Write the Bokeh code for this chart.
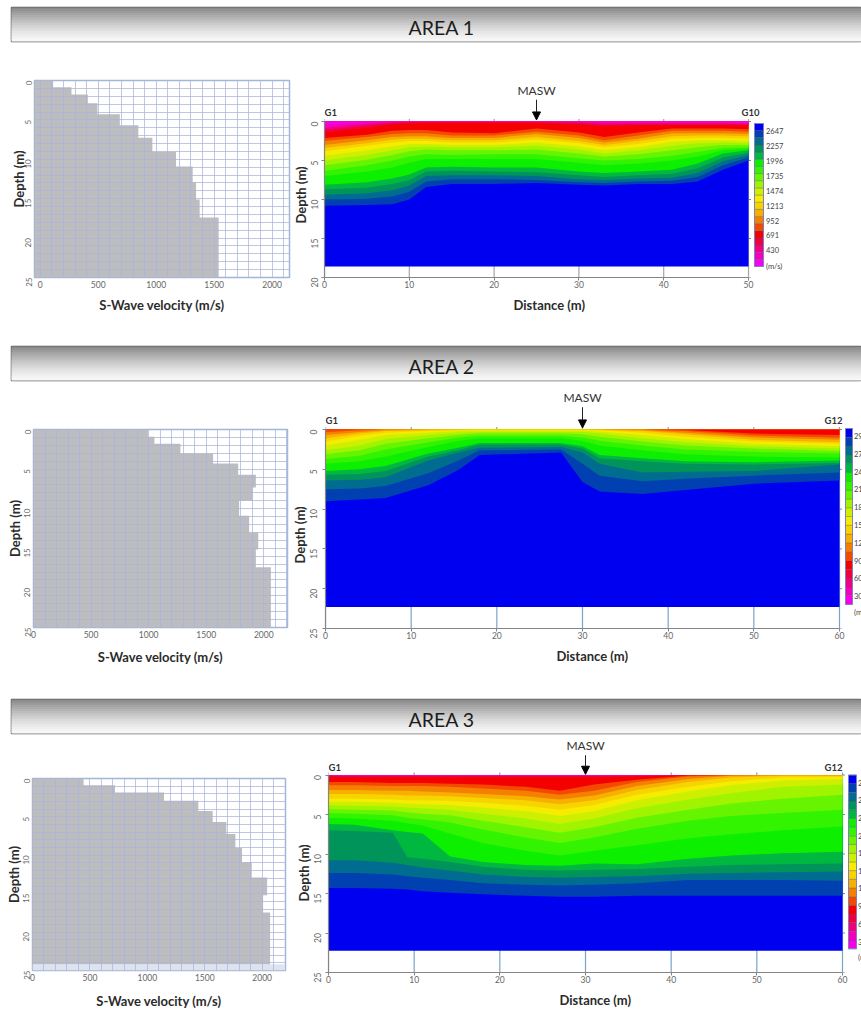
import math
from bokeh.plotting import figure
from bokeh.layouts import column, row
from bokeh.embed import file_html
from bokeh.resources import INLINE
from bokeh.core.properties import value
from bokeh.models import Range1d, FixedTicker, SingleIntervalTicker, Label, Arrow, NormalHead, ColumnDataSource, Title

FONT = "Lato"

# ---------- S-wave velocity profiles ----------
V1_DEPTH = [0, 0.85, 1.78, 2.88, 4.28, 5.68, 7.25, 9.03, 10.9, 12.9, 15.1, 17.4, 25]
V1_VEL = [111, 269, 410, 493, 686, 846, 967, 1171, 1315, 1344, 1375, 1539]
V2_DEPTH = [0, 0.93, 1.81, 3.03, 4.29, 5.72, 7.32, 9.0, 10.9, 13.0, 15.15, 17.4, 25]
V2_VEL = [994, 1050, 1276, 1560, 1778, 1931, 1902, 1786, 1873, 1952, 1931, 2062]
V3_DEPTH = [0, 0.89, 1.82, 2.91, 4.22, 5.66, 7.22, 9.04, 10.9, 12.9, 15.2, 17.44, 24.2]
V3_VEL = [445, 718, 1145, 1444, 1569, 1688, 1767, 1825, 1909, 2043, 2008, 2069]

# ---------- band colours, shallow/slow to deep/fast ----------
BANDS = ["#f700f0", "#f500c0", "#f2007f", "#f00040", "#f50000", "#f44a00", "#f58000", "#f7b000",
         "#f7d400", "#f5ec00", "#ccf000", "#a0f400", "#66f400", "#33f400", "#0cf000", "#00b840",
         "#00945a", "#006c90", "#0040b0", "#0000f0"]

# ---------- tomography sections: contour depths (m) at each station ----------
S1_X = [0, 5, 8, 10, 12, 15, 20, 25, 30, 33, 37, 41, 44, 47, 50]
S1_D = [
    [.4, .8, 1.1, 1.4, 2.1, 2.5, 3.0, 3.4, 3.8, 4.4, 5.0, 5.6, 6.3, 7.0, 8.1, 8.7, 9.4, 10.0, 10.8],
    [.1, .3, .5, .8, 1.7, 2.0, 2.4, 2.8, 3.1, 3.7, 4.3, 4.9, 5.6, 6.4, 7.8, 8.5, 9.2, 9.9, 10.7],
    [.05, .1, .2, .4, 1.2, 1.6, 2.0, 2.3, 2.7, 3.2, 3.7, 4.3, 5.0, 5.9, 7.3, 8.0, 8.8, 9.6, 10.6],
    [.03, .06, .1, .25, 1.1, 1.5, 1.9, 2.2, 2.5, 2.9, 3.3, 3.8, 4.5, 5.3, 6.8, 7.5, 8.2, 9.0, 10.0],
    [.02, .05, .1, .2, 1.1, 1.5, 1.9, 2.2, 2.5, 2.9, 3.2, 3.6, 4.2, 4.8, 5.9, 6.4, 7.0, 7.7, 8.4],
    [.02, .05, .1, .2, 1.4, 1.8, 2.1, 2.4, 2.7, 3.0, 3.3, 3.7, 4.3, 4.8, 5.8, 6.3, 6.9, 7.4, 8.0],
    [.02, .05, .1, .2, 1.5, 1.8, 2.1, 2.4, 2.7, 3.0, 3.3, 3.7, 4.2, 4.8, 5.9, 6.4, 6.9, 7.4, 8.0],
    [.02, .05, .1, .2, .9, 1.3, 1.6, 2.0, 2.3, 2.7, 3.1, 3.6, 4.2, 4.8, 5.9, 6.5, 7.0, 7.5, 7.9],
    [.05, .1, .2, .4, 1.4, 1.8, 2.1, 2.5, 2.8, 3.2, 3.6, 4.1, 4.7, 5.3, 6.4, 6.9, 7.4, 7.8, 8.1],
    [.1, .2, .4, .6, 2.0, 2.4, 2.7, 3.0, 3.3, 3.7, 4.1, 4.5, 5.0, 5.6, 6.6, 7.1, 7.5, 7.9, 8.2],
    [.1, .2, .3, .5, 1.4, 1.8, 2.2, 2.5, 2.9, 3.3, 3.7, 4.2, 4.8, 5.4, 6.4, 6.9, 7.3, 7.7, 8.0],
    [.1, .2, .3, .5, .9, 1.2, 1.5, 1.9, 2.2, 2.6, 3.1, 3.7, 4.4, 5.0, 6.2, 6.7, 7.2, 7.6, 8.0],
    [.1, .2, .3, .5, .9, 1.2, 1.5, 1.8, 2.1, 2.4, 2.8, 3.3, 3.9, 4.5, 5.4, 6.0, 6.6, 7.1, 7.7],
    [.1, .2, .3, .5, .9, 1.2, 1.5, 1.8, 2.1, 2.4, 2.7, 3.0, 3.4, 3.7, 4.1, 4.6, 5.1, 5.6, 6.2],
    [.2, .3, .4, .5, 1.0, 1.3, 1.6, 1.9, 2.2, 2.5, 2.8, 3.0, 3.3, 3.5, 3.7, 4.0, 4.3, 4.6, 5.0],
]
S2_X = [0, 4, 7, 12, 15.5, 18, 27.5, 30, 32, 37, 42, 50, 60]
S2_D = [
    [0, 0, 0, 0, .05, .35, .7, 1.1, 1.5, 2.0, 2.6, 3.1, 3.7, 4.3, 5.2, 5.7, 6.4, 7.5, 9.0],
    [0, 0, 0, 0, .02, .1, .3, .5, .8, 1.3, 2.0, 2.6, 3.3, 4.0, 5.0, 5.6, 6.3, 7.4, 8.8],
    [0, 0, 0, 0, 0, .03, .1, .2, .4, .7, 1.2, 1.8, 2.5, 3.4, 4.6, 5.2, 6.0, 7.1, 8.6],
    [0, 0, 0, 0, 0, 0, .02, .1, .2, .4, .7, 1.1, 1.6, 2.2, 3.0, 3.4, 3.9, 5.5, 7.0],
    [0, 0, 0, 0, 0, 0, .01, .05, .1, .2, .4, .7, 1.0, 1.4, 2.3, 2.6, 2.9, 3.9, 5.1],
    [0, 0, 0, 0, 0, 0, .01, .03, .08, .15, .3, .5, .8, 1.1, 1.7, 1.9, 2.3, 2.6, 3.2],
    [0, 0, 0, 0, 0, 0, .01, .03, .08, .15, .3, .5, .8, 1.1, 1.7, 1.9, 2.2, 2.5, 2.9],
    [0, 0, 0, 0, 0, 0, .01, .03, .08, .15, .3, .6, 1.0, 1.4, 2.1, 2.4, 2.9, 4.3, 6.6],
    [0, 0, 0, 0, 0, 0, .02, .05, .1, .25, .5, .9, 1.4, 2.0, 3.2, 3.6, 4.3, 5.8, 7.8],
    [0, 0, 0, 0, 0, .03, .1, .2, .4, .7, 1.1, 1.5, 2.0, 2.6, 3.6, 4.0, 5.4, 6.5, 8.1],
    [0, 0, 0, 0, .05, .2, .4, .6, .9, 1.2, 1.6, 2.0, 2.5, 3.1, 4.0, 4.3, 5.3, 6.2, 7.6],
    [0, 0, 0, 0, .5, .75, 1.0, 1.3, 1.5, 1.8, 2.1, 2.4, 2.8, 3.4, 4.1, 4.4, 5.2, 5.8, 6.8],
    [0, 0, 0, 0, .7, 1.05, 1.3, 1.6, 1.8, 2.1, 2.4, 2.7, 3.0, 3.5, 3.9, 4.2, 4.4, 5.4, 6.4],
]
S3_X = [0, 3, 7.5, 9.2, 11, 14.2, 18, 23, 27, 31, 36, 42, 47, 53, 60]
S3_D = [
    [.02, .05, .1, .3, .9, 1.3, 1.9, 2.4, 3.0, 3.4, 3.8, 4.3, 4.8, 5.4, 6.2, 7.0, 10.8, 12.4, 14.3],
    [.02, .05, .1, .3, .9, 1.3, 1.9, 2.4, 3.0, 3.4, 3.9, 4.4, 4.9, 5.5, 6.3, 7.1, 10.8, 12.4, 14.3],
    [.02, .05, .1, .3, 1.0, 1.4, 2.0, 2.5, 3.1, 3.5, 4.0, 4.5, 5.1, 5.8, 7.0, 7.3, 11.1, 12.6, 14.4],
    [.02, .05, .1, .3, 1.0, 1.4, 2.0, 2.6, 3.2, 3.6, 4.1, 4.7, 5.4, 6.1, 7.2, 10.4, 11.4, 12.8, 14.5],
    [.02, .05, .1, .3, 1.0, 1.4, 2.1, 2.6, 3.2, 3.7, 4.2, 4.9, 5.6, 6.4, 7.4, 10.6, 11.7, 13.0, 14.7],
    [.02, .05, .1, .3, 1.1, 1.5, 2.2, 2.7, 3.3, 3.8, 4.4, 5.1, 6.0, 7.4, 10.3, 11.0, 12.1, 13.3, 14.9],
    [.02, .05, .1, .3, 1.2, 1.7, 2.4, 2.9, 3.5, 4.1, 4.9, 5.8, 6.9, 8.6, 11.0, 11.6, 12.6, 13.7, 15.1],
    [.02, .05, .1, .3, 1.5, 2.0, 2.7, 3.2, 3.9, 4.6, 5.5, 6.6, 7.9, 9.6, 11.4, 12.0, 12.9, 13.9, 15.3],
    [.02, .05, .1, .3, 2.0, 2.5, 3.1, 3.7, 4.4, 5.2, 6.2, 7.3, 8.6, 10.2, 11.5, 12.1, 13.0, 14.0, 15.4],
    [.02, .05, .1, .3, 1.2, 2.0, 2.6, 3.2, 3.8, 4.6, 5.5, 6.6, 7.9, 9.6, 11.2, 12.0, 12.9, 13.9, 15.4],
    [.02, .04, .08, .2, .6, .9, 1.4, 1.9, 2.5, 3.2, 4.2, 5.4, 6.8, 8.9, 11.3, 11.9, 12.8, 13.7, 15.3],
    [0, 0, 0, 0, .05, .2, .5, .9, 1.5, 2.1, 3.1, 4.4, 5.8, 8.0, 10.6, 11.6, 12.5, 13.3, 15.3],
    [0, 0, 0, 0, 0, .02, .1, .3, .8, 1.3, 2.3, 3.6, 5.2, 7.5, 10.2, 11.4, 12.4, 13.3, 15.3],
    [0, 0, 0, 0, 0, 0, .02, .1, .3, .7, 1.5, 3.0, 4.8, 7.0, 9.9, 11.3, 12.3, 13.3, 15.3],
    [0, 0, 0, 0, 0, 0, .02, .1, .25, .5, 1.2, 2.5, 4.4, 6.5, 9.7, 11.2, 12.2, 13.4, 15.3],
]
S1_BOTTOM, S2_BOTTOM, S3_BOTTOM = 18.6, 22.3, 22.25

# ---------- colour-bar labels, as far as the picture shows them ----------
CB1_TEXT = ["(m/s)", "430", "691", "952", "1213", "1474", "1735", "1996", "2257", "2647"]
CB1_POS = [0, 2.3, 4.4, 6.4, 8.5, 10.6, 12.7, 14.8, 16.8, 18.9]
CB2_TEXT = ["(m", "30", "60", "90", "12", "15", "18", "21", "24", "27", "29"]
CB2_POS = [-0.9, 1.0, 3.0, 5.0, 7.0, 9.0, 11.1, 13.1, 15.1, 17.1, 19.1]
CB3_TEXT = ["(m", "3", "6", "9", "1", "1", "1", "2", "2", "2", "2"]
CB3_POS = [-1.0, 0.8, 2.9, 4.9, 7.0, 9.0, 11.0, 13.0, 15.0, 17.1, 19.1]

HEADER_GRAYS = [138, 146, 155, 164, 172, 180, 188, 196, 203, 210, 217, 223, 229, 234, 239, 243, 247]

PAGE_W = 861
SPLIT = 292  # page x where the section figures begin


def header(title, h, top, bottom):
    n = len(HEADER_GRAYS)
    p = figure(width=PAGE_W, height=h, x_range=(0, 1), y_range=(0, n), toolbar_location=None,
               output_backend="svg", min_border_left=11, min_border_right=0, min_border_top=top,
               min_border_bottom=bottom, x_axis_type=None, y_axis_type=None, frame_align=False)
    p.grid.visible = False
    cols = ["#%02x%02x%02x" % (g, g, g) for g in HEADER_GRAYS]
    src = ColumnDataSource(dict(b=[n - i - 1 for i in range(n)], t=[n - i for i in range(n)], c=cols))
    p.quad(left=0, right=1, bottom="b", top="t", fill_color="c", line_color="c", source=src)
    p.outline_line_color = "#555555"
    p.outline_line_width = 1.5
    p.add_layout(Label(x=0.506, y=n * 0.42, text=title, text_font=FONT, text_font_size="19.5px",
                       text_color="#1c1c1c", text_align="center", text_baseline="middle"))
    return p


def style_axis(ax, title, label_color="#666666", size="8px", orient=None, title_standoff=2, label_standoff=2):
    if title:
        ax.axis_label = title
        ax.axis_label_text_font = FONT
        ax.axis_label_text_font_style = "bold"
        ax.axis_label_text_font_size = "13px"
        ax.axis_label_text_color = "#2b2b2b"
        ax.axis_label_standoff = title_standoff
    ax.major_label_text_font = FONT
    ax.major_label_text_font_size = size
    ax.major_label_text_color = label_color
    ax.major_label_standoff = label_standoff
    ax.minor_tick_line_color = None
    if orient is not None:
        ax.major_label_orientation = orient


def velocity(vel, dep, xr, left, fw, top, fh, bottom, depth_standoff, x_title_standoff, band=False):
    p = figure(width=SPLIT, height=top + fh + bottom, x_range=Range1d(*xr), y_range=Range1d(25, 0),
               toolbar_location=None, output_backend="svg", min_border_left=left, min_border_right=SPLIT - left - fw,
               min_border_top=top, min_border_bottom=bottom, frame_align=False)
    start = xr[0]
    if band:
        p.quad(left=start, right=xr[1], top=dep[-1], bottom=25, fill_color="#dde4ee", line_color=None)
    px, py = [start], [dep[0]]
    for i, v in enumerate(vel):
        px += [v, v]
        py += [dep[i], dep[i + 1]]
    px.append(start)
    py.append(dep[-1])
    p.patch(px, py, fill_color="#bdbdc0", line_color=None)
    p.xaxis.ticker = FixedTicker(ticks=[0, 500, 1000, 1500, 2000])
    p.yaxis.ticker = FixedTicker(ticks=[0, 5, 10, 15, 20, 25])
    style_axis(p.xaxis[0], "S-Wave velocity (m/s)", size="8.5px", title_standoff=x_title_standoff, label_standoff=3)
    style_axis(p.yaxis[0], "Depth (m)", size="8px", orient=math.pi / 2, title_standoff=depth_standoff, label_standoff=6)
    for ax in (p.xaxis[0], p.yaxis[0]):
        ax.axis_line_color = None
        ax.major_tick_line_color = None
        ax.major_tick_out = 0
        ax.major_tick_in = 0
    p.xgrid.ticker = SingleIntervalTicker(interval=100)
    p.ygrid.ticker = SingleIntervalTicker(interval=1)
    for g in (p.xgrid[0], p.ygrid[0]):
        g.level = "overlay"
        g.grid_line_color = "#a9b4dc"
        g.grid_line_alpha = 0.75
        g.grid_line_width = 1
    p.outline_line_color = "#a4b6d8"
    p.outline_line_width = 1.5
    return p


def section(xs, rows_, bottom_depth, xmax, ymax, masw, right_name, left, plot_w, zero_px, plot_h, row_h,
            name_y, masw_y, arrow_y, grid_color, cb_box, cb_text, cb_pos, cb_gap, right_over,
            y_label_standoff, dist_offset, depth_offset):
    """zero_px: px from the figure's top to depth 0. plot_h: px from depth 0 to ymax."""
    width = PAGE_W - SPLIT
    sx = plot_w / xmax
    sy = plot_h / ymax
    p = figure(width=width, height=row_h, x_range=Range1d(0, (width - left) / sx),
               y_range=Range1d(ymax, -zero_px / sy), toolbar_location=None, output_backend="svg",
               min_border_left=left, min_border_right=0, min_border_top=0, min_border_bottom=row_h - zero_px - plot_h,
               frame_align=False)
    p.outline_line_color = None
    p.grid.visible = False
    xticks = list(range(0, xmax + 1, 10))
    yticks = list(range(0, ymax + 1, 5))
    p.segment(x0=xticks, x1=xticks, y0=[-2.5 / sy] * len(xticks), y1=[ymax] * len(xticks),
              line_color=grid_color, line_width=1.2)
    p.segment(x0=[xmax] * len(yticks), x1=[xmax + 2.5 / sx] * len(yticks), y0=yticks, y1=yticks,
              line_color="#858585", line_width=1)
    p.varea(x=xs, y1=[0] * len(xs), y2=[bottom_depth] * len(xs), fill_color=BANDS[19])
    for i in range(18, -1, -1):
        p.varea(x=xs, y1=[0] * len(xs), y2=[r[i] for r in rows_], fill_color=BANDS[i])
    p.xaxis.ticker = FixedTicker(ticks=xticks)
    p.yaxis.ticker = FixedTicker(ticks=yticks)
    p.xaxis.bounds = (0, xmax)
    p.yaxis.bounds = (0, ymax)
    style_axis(p.xaxis[0], None, size="8.5px", label_standoff=0)
    style_axis(p.yaxis[0], None, size="8.5px", orient=math.pi / 2, label_standoff=y_label_standoff)
    for ax in (p.xaxis[0], p.yaxis[0]):
        ax.axis_line_color = "#858585"
        ax.axis_line_width = 1.2
        ax.major_tick_line_color = "#858585"
        ax.major_tick_out = 3
        ax.major_tick_in = 0
    p.add_layout(Title(text="Distance (m)", align="left", offset=dist_offset, standoff=8, text_font=FONT,
                       text_font_style="bold", text_font_size="13px", text_color="#2b2b2b"), "below")
    p.add_layout(Title(text="Depth (m)", align="left", offset=depth_offset, standoff=-8, text_font=FONT,
                       text_font_style="bold", text_font_size="13px", text_color="#2b2b2b"), "left")
    p.add_layout(Arrow(end=NormalHead(size=8, fill_color="black", line_color="black"), line_color="#222222",
                       line_width=1, x_start=masw, x_end=masw, y_start=arrow_y[0], y_end=arrow_y[1]))
    p.text(x=[masw], y=[masw_y], text=["MASW"], text_font=value(FONT), text_font_size="12px",
           text_color="#333333", text_align="center", text_baseline="middle")
    p.text(x=[0], y=[name_y], text=["G1"], text_font=value(FONT), text_font_style="bold", text_font_size="9.5px",
           text_color="#333333", text_align="left", text_baseline="middle")
    p.text(x=[xmax + right_over / sx], y=[name_y], text=[right_name], text_font=value(FONT), text_font_style="bold",
           text_font_size="9.5px", text_color="#333333", text_align="right", text_baseline="middle")
    # colour bar, in the same frame: cb_box = (x px from depth-axis, width px, top px from depth 0, height px)
    cx, cw, ct, ch = cb_box
    n = len(BANDS)
    cell = ch / n
    x0 = cx / sx
    x1 = (cx + cw) / sx
    bots = [(ct + ch - i * cell) / sy for i in range(n)]
    tops = [(ct + ch - (i + 1) * cell) / sy for i in range(n)]
    src = ColumnDataSource(dict(b=bots, t=tops, c=BANDS))
    p.quad(left=x0, right=x1, bottom="b", top="t", fill_color="c", line_color="#555555", line_alpha=0.4,
           line_width=0.8, source=src)
    p.quad(left=x0, right=x1, bottom=bots[0], top=tops[-1], fill_color=None, line_color="#8080c0", line_width=1)
    # labels top-down, each with its own colour entry
    order = sorted(range(len(cb_pos)), key=lambda k: -cb_pos[k])
    lab = ColumnDataSource(dict(x=[x1 + cb_gap / sx] * len(cb_text), y=[(ct + ch - cb_pos[k] * cell) / sy for k in order],
                                t=[cb_text[k] for k in order], col=["#444444"] * len(cb_text)))
    p.text(x="x", y="y", text="t", source=lab, text_font=value(FONT), text_font_size="7.5px", text_color="col",
           text_baseline="middle", text_align="left")
    return p


h1 = header("AREA 1", 44, 7, 3)
l1 = velocity(V1_VEL, V1_DEPTH, (-50, 2150), 34, 255, 36, 197, 65, -7, 6)
s1 = section(S1_X, S1_D, S1_BOTTOM, 50, 20, 25, "G10", 32, 424, 77, 156, 298,
             -1.15, -3.95, (-2.8, -0.2), "#a6a6a6", (430, 9, 2, 143), CB1_TEXT, CB1_POS, 2.5, 11,
             7, 189, 54)

h2 = header("AREA 2", 41, 4, 3)
l2 = velocity(V2_VEL, V2_DEPTH, (0, 2206), 33, 254, 46, 198, 68, -4, 8)
s2 = section(S2_X, S2_D, S2_BOTTOM, 60, 25, 30, "G12", 33, 514, 46, 199, 312,
             -1.15, -4.0, (-2.8, -0.2), "#7ba3c7", (520, 7, -1, 176), CB2_TEXT, CB2_POS, 1.5, 3,
             9, 231, 65)

h3 = header("AREA 3", 41, 4, 3)
l3 = velocity(V3_VEL, V3_DEPTH, (0, 2203), 32, 253, 42, 197, 36, -4, 9, band=True)
s3 = section(S3_X, S3_D, S3_BOTTOM, 60, 25, 30, "G12", 36, 514, 39, 200, 275,
             -1.0, -3.7, (-2.5, -0.1), "#7ba3c7", (520, 8, 0, 176), CB3_TEXT, CB3_POS, 1.5, 0,
             8, 231, 71)

page = column(h1, row(l1, s1), h2, row(l2, s2), h3, row(l3, s3))
open("out.html", "w").write(file_html(page, INLINE))
